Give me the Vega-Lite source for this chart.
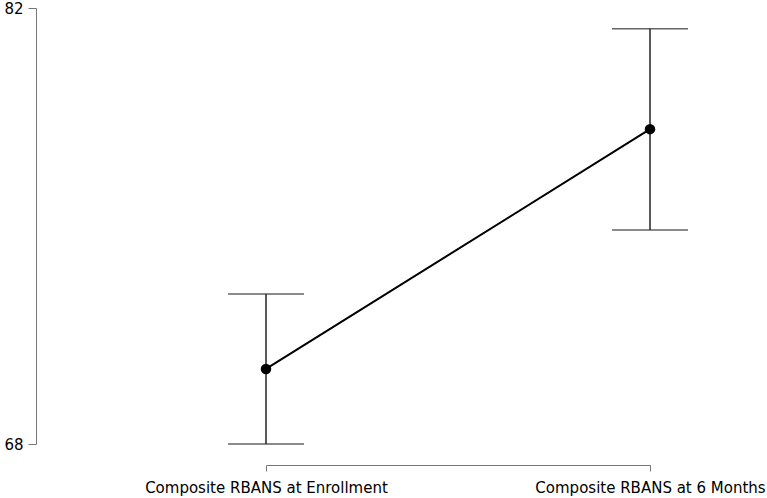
{
  "$schema": "https://vega.github.io/schema/vega-lite/v6.json",
  "autosize": {"type": "none"},
  "width": 384,
  "height": 436,
  "padding": {"left": 266, "top": 8, "right": 117, "bottom": 54},
  "background": "white",
  "config": {"view": {"stroke": null}, "font": "DejaVu Sans"},
  "data": {
    "values": [
      {"condition": "Composite RBANS at Enrollment", "mean": 70.41, "lower": 68.0, "upper": 72.82},
      {"condition": "Composite RBANS at 6 Months", "mean": 78.11, "lower": 74.87, "upper": 81.33}
    ]
  },
  "encoding": {
    "x": {
      "field": "condition",
      "type": "ordinal",
      "sort": null,
      "scale": {"type": "point", "padding": 0},
      "axis": {
        "title": null,
        "labelAngle": 0,
        "offset": 21,
        "tickSize": 6,
        "labelPadding": 9,
        "labelFontSize": 15,
        "labelLimit": 0,
        "labelColor": "black",
        "domainColor": "#777",
        "tickColor": "#777",
        "labelOverlap": false
      }
    }
  },
  "layer": [
    {
      "mark": {"type": "rule", "color": "#222", "strokeWidth": 1.5},
      "encoding": {
        "y": {
          "field": "lower",
          "type": "quantitative",
          "scale": {"domain": [68, 82], "nice": false, "zero": false},
          "axis": {
            "title": null,
            "values": [68, 82],
            "offset": 230,
            "tickSize": 8,
            "labelPadding": 5,
            "labelFontSize": 15,
            "labelColor": "black",
            "domainColor": "#777",
            "tickColor": "#777",
            "grid": false
          }
        },
        "y2": {"field": "upper"}
      }
    },
    {
      "mark": {"type": "tick", "color": "#222", "size": 76, "thickness": 1.5},
      "encoding": {"y": {"field": "lower", "type": "quantitative"}}
    },
    {
      "mark": {"type": "tick", "color": "#222", "size": 76, "thickness": 1.5},
      "encoding": {"y": {"field": "upper", "type": "quantitative"}}
    },
    {
      "mark": {"type": "line", "color": "black", "strokeWidth": 2},
      "encoding": {"y": {"field": "mean", "type": "quantitative"}}
    },
    {
      "mark": {"type": "point", "filled": true, "color": "black", "size": 110, "opacity": 1},
      "encoding": {"y": {"field": "mean", "type": "quantitative"}}
    }
  ]
}
